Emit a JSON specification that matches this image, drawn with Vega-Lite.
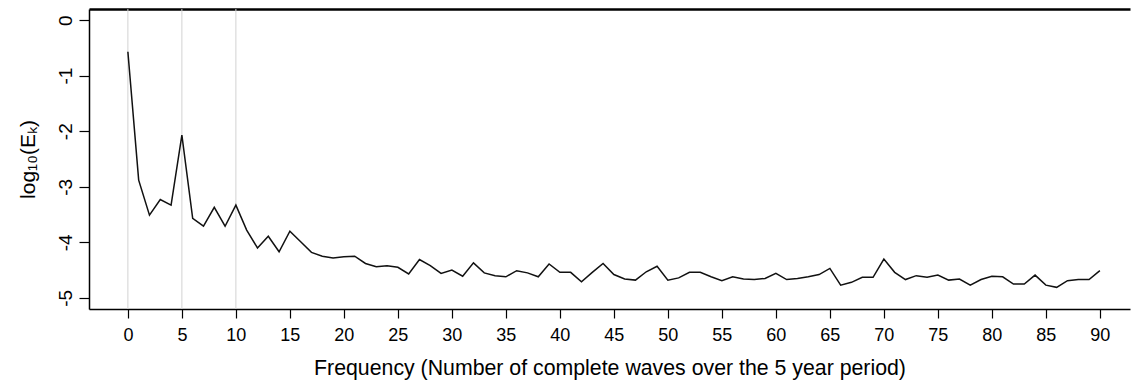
{
  "$schema": "https://vega.github.io/schema/vega-lite/v6.json",
  "autosize": {"type": "none"},
  "padding": {"left": 89, "top": 9, "right": 1, "bottom": 76},
  "width": 1041,
  "height": 300,
  "config": {
    "font": "Liberation Sans",
    "view": {"stroke": null},
    "axis": {"grid": false, "domain": true, "domainColor": "black", "domainWidth": 1.5, "tickColor": "black", "tickWidth": 1.2, "labelColor": "black", "titleColor": "black", "titleFontWeight": "normal", "labelFont": "Liberation Sans", "titleFont": "Liberation Sans"}
  },
  "datasets": {
    "spec": [
      {"k": 0, "e": -0.57}, {"k": 1, "e": -2.88}, {"k": 2, "e": -3.51}, {"k": 3, "e": -3.23},
      {"k": 4, "e": -3.33}, {"k": 5, "e": -2.07}, {"k": 6, "e": -3.57}, {"k": 7, "e": -3.71},
      {"k": 8, "e": -3.37}, {"k": 9, "e": -3.71}, {"k": 10, "e": -3.33}, {"k": 11, "e": -3.78},
      {"k": 12, "e": -4.10}, {"k": 13, "e": -3.89}, {"k": 14, "e": -4.17}, {"k": 15, "e": -3.80},
      {"k": 16, "e": -3.99}, {"k": 17, "e": -4.18}, {"k": 18, "e": -4.25}, {"k": 19, "e": -4.28},
      {"k": 20, "e": -4.26}, {"k": 21, "e": -4.25}, {"k": 22, "e": -4.38}, {"k": 23, "e": -4.44},
      {"k": 24, "e": -4.42}, {"k": 25, "e": -4.45}, {"k": 26, "e": -4.57}, {"k": 27, "e": -4.31},
      {"k": 28, "e": -4.42}, {"k": 29, "e": -4.56}, {"k": 30, "e": -4.50}, {"k": 31, "e": -4.61},
      {"k": 32, "e": -4.37}, {"k": 33, "e": -4.55}, {"k": 34, "e": -4.60}, {"k": 35, "e": -4.62},
      {"k": 36, "e": -4.51}, {"k": 37, "e": -4.55}, {"k": 38, "e": -4.62}, {"k": 39, "e": -4.39},
      {"k": 40, "e": -4.54}, {"k": 41, "e": -4.54}, {"k": 42, "e": -4.71}, {"k": 43, "e": -4.54},
      {"k": 44, "e": -4.38}, {"k": 45, "e": -4.58}, {"k": 46, "e": -4.66}, {"k": 47, "e": -4.68},
      {"k": 48, "e": -4.53}, {"k": 49, "e": -4.43}, {"k": 50, "e": -4.68}, {"k": 51, "e": -4.64},
      {"k": 52, "e": -4.54}, {"k": 53, "e": -4.54}, {"k": 54, "e": -4.62}, {"k": 55, "e": -4.69},
      {"k": 56, "e": -4.62}, {"k": 57, "e": -4.66}, {"k": 58, "e": -4.67}, {"k": 59, "e": -4.65},
      {"k": 60, "e": -4.56}, {"k": 61, "e": -4.67}, {"k": 62, "e": -4.65}, {"k": 63, "e": -4.62},
      {"k": 64, "e": -4.58}, {"k": 65, "e": -4.47}, {"k": 66, "e": -4.77}, {"k": 67, "e": -4.72},
      {"k": 68, "e": -4.63}, {"k": 69, "e": -4.63}, {"k": 70, "e": -4.30}, {"k": 71, "e": -4.54},
      {"k": 72, "e": -4.67}, {"k": 73, "e": -4.60}, {"k": 74, "e": -4.63}, {"k": 75, "e": -4.59},
      {"k": 76, "e": -4.68}, {"k": 77, "e": -4.66}, {"k": 78, "e": -4.77}, {"k": 79, "e": -4.67},
      {"k": 80, "e": -4.61}, {"k": 81, "e": -4.62}, {"k": 82, "e": -4.75}, {"k": 83, "e": -4.75},
      {"k": 84, "e": -4.59}, {"k": 85, "e": -4.77}, {"k": 86, "e": -4.81}, {"k": 87, "e": -4.69},
      {"k": 88, "e": -4.67}, {"k": 89, "e": -4.67}, {"k": 90, "e": -4.51}
    ],
    "marks": [{"k": 0}, {"k": 5}, {"k": 10}]
  },
  "resolve": {"axis": {"x": "independent"}},
  "layer": [
    {
      "data": {"name": "marks"},
      "mark": {"type": "rule", "color": "#d3d3d3", "strokeWidth": 1},
      "encoding": {
        "x": {
          "field": "k", "type": "quantitative",
          "scale": {"domain": [-3.6, 92.79], "nice": false, "zero": false},
          "axis": {"orient": "top", "labels": false, "ticks": false, "title": null, "domain": true, "domainWidth": 2.5}
        }
      }
    },
    {
      "data": {"name": "spec"},
      "mark": {"type": "line", "color": "#111111", "strokeWidth": 1.5},
      "encoding": {
        "x": {
          "field": "k", "type": "quantitative",
          "scale": {"domain": [-3.6, 92.79], "nice": false, "zero": false},
          "axis": {
            "orient": "bottom",
            "values": [0,5,10,15,20,25,30,35,40,45,50,55,60,65,70,75,80,85,90],
            "tickSize": 9, "labelFontSize": 18, "labelPadding": 8,
            "title": "Frequency (Number of complete waves over the 5 year period)",
            "titleFontSize": 21.3, "titlePadding": 13
          }
        },
        "y": {
          "field": "e", "type": "quantitative",
          "scale": {"domain": [-5.2, 0.2], "nice": false, "zero": false},
          "axis": {
            "values": [0,-1,-2,-3,-4,-5],
            "labelExpr": "'' + datum.value",
            "tickSize": 10, "labelFontSize": 19, "labelAngle": -90, "labelAlign": "center", "labelBaseline": "bottom", "labelPadding": 4,
            "title": "log₁₀(Eₖ)", "titleFontSize": 21, "titlePadding": 18
          }
        }
      }
    }
  ]
}
